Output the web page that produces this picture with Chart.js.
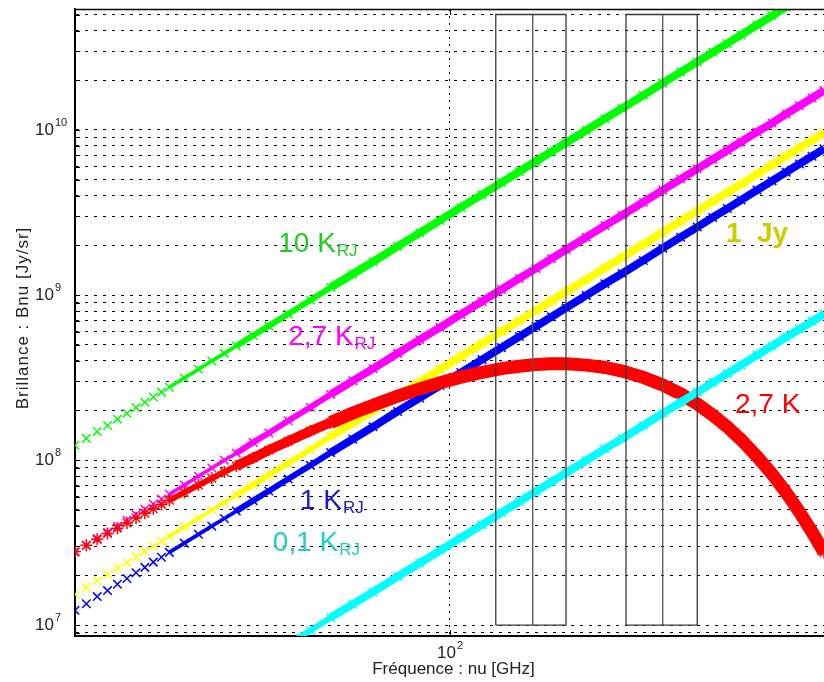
<!DOCTYPE html>
<html>
<head>
<meta charset="utf-8">
<title>Brillance</title>
<script src="https://cdn.jsdelivr.net/npm/chart.js@4.4.1/dist/chart.umd.min.js"></script>
<style>
  html, body { margin: 0; padding: 0; background: #fff; overflow: hidden; }
  canvas { display: block; }
</style>
</head>
<body>
<canvas id="brillance" width="824" height="682"></canvas>
<script>
const freqGHz = [20, 21, 22, 23, 24, 25, 26, 27, 28, 29, 30, 32, 34, 36, 38, 40, 43, 46, 50, 55, 60, 66, 72, 80, 88, 96,
  105, 115, 125, 135, 145, 155, 165, 180, 195, 210, 230, 250, 270, 290, 310, 330, 350, 375, 400, 425, 450, 475, 500];

// Brightness Bnu [Jy/sr] of each curve at those frequencies
const bnu10K = [1.23e8, 1.35e8, 1.49e8, 1.62e8, 1.77e8, 1.92e8, 2.08e8, 2.24e8, 2.41e8, 2.58e8, 2.76e8, 3.14e8, 3.55e8, 3.98e8, 4.43e8, 4.91e8,
  5.68e8, 6.50e8, 7.68e8, 9.29e8, 1.11e9, 1.34e9, 1.59e9, 1.97e9, 2.38e9, 2.83e9, 3.39e9, 4.06e9, 4.80e9, 5.60e9, 6.46e9, 7.38e9, 8.36e9,
  9.95e9, 1.17e10, 1.35e10, 1.62e10, 1.92e10, 2.24e10, 2.58e10, 2.95e10, 3.34e10, 3.76e10, 4.32e10, 4.91e10, 5.55e10, 6.22e10, 6.93e10, 7.68e10];
const bnu27KRJ = [2.77e7, 3.04e7, 3.35e7, 3.65e7, 3.98e7, 4.32e7, 4.68e7, 5.04e7, 5.42e7, 5.81e7, 6.21e7, 7.07e7, 7.99e7, 8.96e7, 9.97e7, 1.10e8,
  1.28e8, 1.46e8, 1.73e8, 2.09e8, 2.50e8, 3.02e8, 3.58e8, 4.43e8, 5.36e8, 6.37e8, 7.63e8, 9.14e8, 1.08e9, 1.26e9, 1.45e9, 1.66e9, 1.88e9,
  2.24e9, 2.63e9, 3.04e9, 3.65e9, 4.32e9, 5.04e9, 5.81e9, 6.64e9, 7.52e9, 8.46e9, 9.72e9, 1.10e10, 1.25e10, 1.40e10, 1.56e10, 1.73e10];
const bnu1Jy = [1.54e7, 1.69e7, 1.86e7, 2.03e7, 2.21e7, 2.40e7, 2.60e7, 2.80e7, 3.01e7, 3.23e7, 3.45e7, 3.93e7, 4.44e7, 4.98e7, 5.54e7, 6.14e7,
  7.10e7, 8.13e7, 9.60e7, 1.16e8, 1.39e8, 1.68e8, 1.99e8, 2.46e8, 2.98e8, 3.54e8, 4.24e8, 5.08e8, 6.00e8, 7.00e8, 8.08e8, 9.23e8, 1.05e9,
  1.24e9, 1.46e9, 1.69e9, 2.03e9, 2.40e9, 2.80e9, 3.23e9, 3.69e9, 4.18e9, 4.70e9, 5.40e9, 6.14e9, 6.94e9, 7.78e9, 8.66e9, 9.60e9];
const bnu1KRJ = [1.23e7, 1.35e7, 1.49e7, 1.62e7, 1.77e7, 1.92e7, 2.08e7, 2.24e7, 2.41e7, 2.58e7, 2.76e7, 3.14e7, 3.55e7, 3.98e7, 4.43e7, 4.91e7,
  5.68e7, 6.50e7, 7.68e7, 9.29e7, 1.11e8, 1.34e8, 1.59e8, 1.97e8, 2.38e8, 2.83e8, 3.39e8, 4.06e8, 4.80e8, 5.60e8, 6.46e8, 7.38e8, 8.36e8,
  9.95e8, 1.17e9, 1.35e9, 1.62e9, 1.92e9, 2.24e9, 2.58e9, 2.95e9, 3.34e9, 3.76e9, 4.32e9, 4.91e9, 5.55e9, 6.22e9, 6.93e9, 7.68e9];
const bnu01KRJ = [1.23e6, 1.35e6, 1.49e6, 1.62e6, 1.77e6, 1.92e6, 2.08e6, 2.24e6, 2.41e6, 2.58e6, 2.76e6, 3.14e6, 3.55e6, 3.98e6, 4.43e6, 4.91e6,
  5.68e6, 6.50e6, 7.68e6, 9.29e6, 1.11e7, 1.34e7, 1.59e7, 1.97e7, 2.38e7, 2.83e7, 3.39e7, 4.06e7, 4.80e7, 5.60e7, 6.46e7, 7.38e7, 8.36e7,
  9.95e7, 1.17e8, 1.35e8, 1.62e8, 1.92e8, 2.24e8, 2.58e8, 2.95e8, 3.34e8, 3.76e8, 4.32e8, 4.91e8, 5.55e8, 6.22e8, 6.93e8, 7.68e8];
const bnuCMB = [2.79e7, 3.05e7, 3.31e7, 3.59e7, 3.87e7, 4.16e7, 4.46e7, 4.76e7, 5.07e7, 5.39e7, 5.71e7, 6.37e7, 7.06e7, 7.76e7, 8.48e7, 9.21e7,
  1.03e8, 1.15e8, 1.30e8, 1.50e8, 1.69e8, 1.93e8, 2.15e8, 2.44e8, 2.70e8, 2.94e8, 3.18e8, 3.40e8, 3.58e8, 3.70e8, 3.79e8, 3.83e8, 3.83e8,
  3.76e8, 3.64e8, 3.46e8, 3.17e8, 2.85e8, 2.52e8, 2.19e8, 1.87e8, 1.59e8, 1.33e8, 1.05e8, 8.22e7, 6.35e7, 4.85e7, 3.67e7, 2.76e7];

// Two frequency bands drawn as boxes (GHz), and their vertical extent (Jy/sr)
const bandLowGHz = [122, 213.5];
const bandMidGHz = [143, 250];
const bandHighGHz = [165, 290];
const bandBnu = [1e7, 5e10];

// Axes
const xLimits = [20, 500];
const yLimits = [8.6e6, 5.4e10];
const xTickValues = [100];
const xTickLabels = [['10', '2']];
const yDecades = [1e7, 1e8, 1e9, 1e10];
const yTickLabels = [['10', '7'], ['10', '8'], ['10', '9'], ['10', '10']];

const FONT = '"Liberation Sans", Arial, Helvetica, sans-serif';

// curve labels, placed in data coordinates (freq, Bnu) at the text's left baseline
const curveLabels = [
  { text: '10 K', sub: 'RJ', nu: 47.9, b: 1.82e9, color: '#22cc22' },
  { text: '2,7 K', sub: 'RJ', nu: 50, b: 4.98e8, color: '#ff00ff' },
  { text: '1  Jy', sub: '', nu: 328, b: 2.10e9, color: '#cccc00', bold: true },
  { text: '1 K', sub: 'RJ', nu: 52.6, b: 5.05e7, color: '#1a1acc' },
  { text: '0,1 K', sub: 'RJ', nu: 46.8, b: 2.81e7, color: '#22cccc' },
  { text: '2,7 K', sub: '', nu: 341, b: 1.93e8, color: '#ff0000' }
];

// a marker curve: sparse markers at low freq, a dense band further right
function curve(values, color, style, radius, full) {
  return {
    data: freqGHz.map((f, i) => ({ x: f, y: values[i] })),
    showLine: true,
    borderColor: color,
    backgroundColor: color,
    borderWidth: full,
    pointStyle: style,
    pointRadius: radius,
    pointBorderWidth: 1.5,
    pointBorderColor: color,
    segment: {
      borderColor: c => c.p0.parsed.x < 30 ? 'rgba(0,0,0,0)' : undefined,
      borderWidth: c => c.p0.parsed.x < 40 ? full * 0.45 : (c.p0.parsed.x < 60 ? full * 0.75 : undefined)
    },
    clip: 0
  };
}

function box(lo, hi) {
  return {
    data: [{ x: lo, y: bandBnu[0] }, { x: lo, y: bandBnu[1] }, { x: hi, y: bandBnu[1] },
           { x: hi, y: bandBnu[0] }, { x: lo, y: bandBnu[0] }],
    showLine: true, borderColor: '#3a3a3a', borderWidth: 1.3, pointRadius: 0, clip: 0
  };
}

const datasets = [];
bandLowGHz.forEach((lo, i) => {
  datasets.push(box(lo, bandHighGHz[i]));
  datasets.push({
    data: [{ x: bandMidGHz[i], y: bandBnu[0] }, { x: bandMidGHz[i], y: bandBnu[1] }],
    showLine: true, borderColor: '#555', borderWidth: 1.3, pointRadius: 0, clip: 0
  });
});
datasets.push(curve(bnu01KRJ, '#00ffff', 'crossRot', 6, 8));
datasets.push(curve(bnuCMB, '#ff0000', 'star', 6, 13));
datasets.push(curve(bnu10K, '#00ff00', 'crossRot', 6, 8));
datasets.push(curve(bnu27KRJ, '#ff00ff', 'crossRot', 6, 8));
datasets.push(curve(bnu1Jy, '#ffff00', 'crossRot', 6, 8));
datasets.push(curve(bnu1KRJ, '#0000ff', 'crossRot', 6, 8));

// y ticks: every 1..9 x decade inside the axis range
const yTickValues = [];
[1e6].concat(yDecades).forEach(d => {
  for (let m = 1; m <= 9; m++) {
    const v = m * d;
    if (v >= yLimits[0] && v <= yLimits[1]) yTickValues.push(v);
  }
});

function powerLabel(ctx, x, y, base, exp, align) {
  ctx.font = '17px ' + FONT;
  const wb = ctx.measureText(base).width;
  ctx.font = '11px ' + FONT;
  const we = ctx.measureText(exp).width;
  let x0 = x;
  if (align === 'center') x0 = x - (wb + we) / 2;
  if (align === 'right-base') x0 = x - wb;
  ctx.textAlign = 'left';
  ctx.textBaseline = 'middle';
  ctx.font = '17px ' + FONT;
  ctx.fillText(base, x0, y);
  ctx.font = '11px ' + FONT;
  ctx.fillText(exp, x0 + wb + 1, y - 7);
}

const decorations = {
  id: 'decorations',
  afterDraw(chart) {
    const { ctx, chartArea: area } = chart;
    const xs = chart.scales.x, ys = chart.scales.y;
    ctx.save();
    ctx.fillStyle = '#000';
    ctx.strokeStyle = '#000';

    // top frame line
    ctx.lineWidth = 1.5;
    ctx.beginPath();
    ctx.moveTo(area.left, area.top + 0.5);
    ctx.lineTo(area.right, area.top + 0.5);
    ctx.stroke();

    // short inner ticks
    ctx.lineWidth = 1;
    yTickValues.forEach(v => {
      const py = Math.round(ys.getPixelForValue(v)) + 0.5;
      ctx.beginPath();
      ctx.moveTo(area.left, py);
      ctx.lineTo(area.left + 5, py);
      ctx.stroke();
    });
    xTickValues.forEach(v => {
      const px = Math.round(xs.getPixelForValue(v)) + 0.5;
      ctx.beginPath();
      ctx.moveTo(px, area.bottom);
      ctx.lineTo(px, area.bottom - 6);
      ctx.moveTo(px, area.top);
      ctx.lineTo(px, area.top + 6);
      ctx.stroke();
    });

    // tick labels
    ctx.fillStyle = '#222';
    yDecades.forEach((v, i) => {
      powerLabel(ctx, 54, ys.getPixelForValue(v), yTickLabels[i][0], yTickLabels[i][1], 'right-base');
    });
    xTickValues.forEach((v, i) => {
      powerLabel(ctx, xs.getPixelForValue(v), area.bottom + 17, xTickLabels[i][0], xTickLabels[i][1], 'center');
    });

    // axis titles
    ctx.font = '17px ' + FONT;
    ctx.textAlign = 'center';
    ctx.textBaseline = 'alphabetic';
    ctx.fillText('Fréquence : nu [GHz]', (area.left + area.right) / 2 + 4, 674);
    ctx.save();
    ctx.translate(28, 318);
    ctx.rotate(-Math.PI / 2);
    ctx.letterSpacing = '1px';
    ctx.fillText('Brillance : Bnu [Jy/sr]', 0, 0);
    ctx.restore();

    // curve labels
    curveLabels.forEach(l => {
      const px = xs.getPixelForValue(l.nu);
      const py = ys.getPixelForValue(l.b);
      ctx.fillStyle = l.color;
      ctx.textAlign = 'left';
      ctx.textBaseline = 'alphabetic';
      ctx.font = (l.bold ? 'bold ' : '') + '28px ' + FONT;
      ctx.fillText(l.text, px, py);
      if (l.sub) {
        const w = ctx.measureText(l.text).width;
        ctx.font = '17px ' + FONT;
        ctx.fillText(l.sub, px + w + 1, py + 4);
      }
    });
    ctx.restore();
  }
};

new Chart(document.getElementById('brillance'), {
  type: 'scatter',
  data: { datasets },
  options: {
    responsive: false,
    animation: false,
    events: [],
    layout: { autoPadding: false, padding: { top: 9, left: 0, right: 0, bottom: 0 } },
    plugins: { legend: { display: false }, tooltip: { enabled: false } },
    elements: { line: { tension: 0 } },
    scales: {
      x: {
        type: 'logarithmic',
        position: 'bottom',
        min: xLimits[0],
        max: xLimits[1],
        afterBuildTicks: s => { s.ticks = xTickValues.map(v => ({ value: v })); },
        afterFit: s => { s.height = 46; },
        ticks: { display: false },
        grid: { color: '#000', lineWidth: 1, drawTicks: false },
        border: { display: true, color: '#000', width: 2, dash: [2, 5] }
      },
      y: {
        type: 'logarithmic',
        position: 'left',
        min: yLimits[0],
        max: yLimits[1],
        afterBuildTicks: s => { s.ticks = yTickValues.map(v => ({ value: v })); },
        afterFit: s => { s.width = 75; },
        ticks: { display: false },
        grid: { color: '#000', lineWidth: 1, drawTicks: false },
        border: { display: true, color: '#000', width: 2, dash: [3, 6] }
      }
    }
  },
  plugins: [decorations]
});
</script>
</body>
</html>
